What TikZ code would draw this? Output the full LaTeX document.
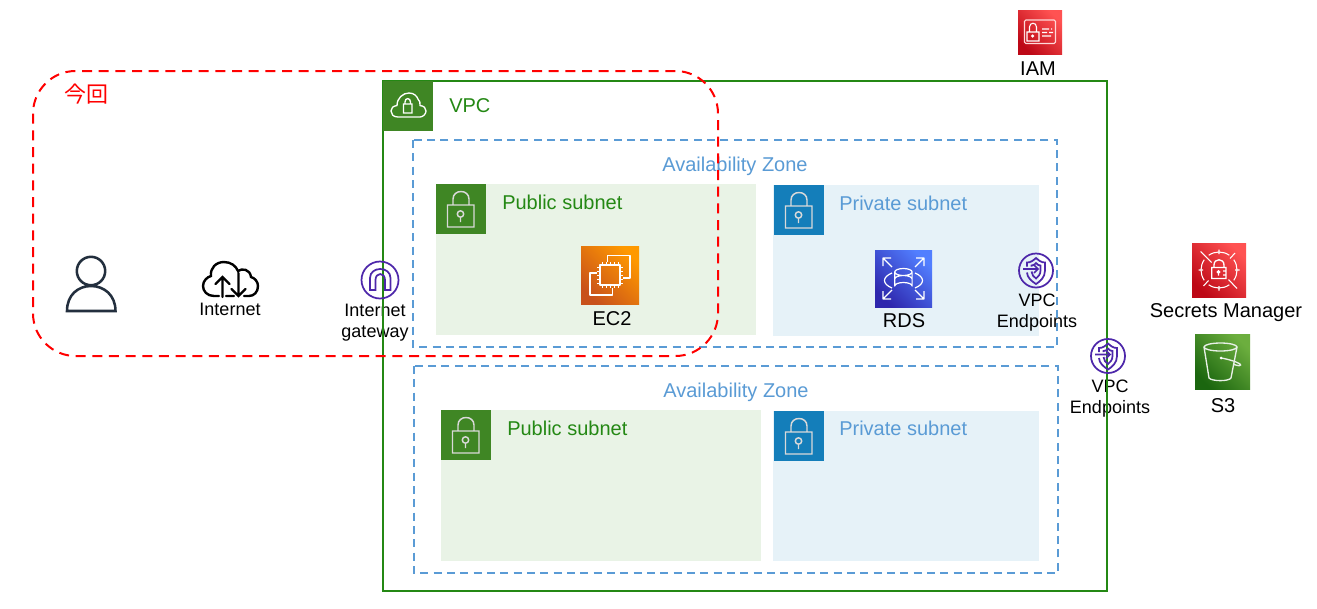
\documentclass[tikz,border=0pt]{standalone}
\usepackage{fontspec}
\setmainfont{Liberation Sans}
\newfontfamily\jpfont{Noto Sans CJK JP}
\definecolor{vpc green}{rgb}{0.1412, 0.5333, 0.0784}
\definecolor{head green}{rgb}{0.2471, 0.5255, 0.1412}
\definecolor{head blue}{rgb}{0.0784, 0.4941, 0.7294}
\definecolor{zone blue}{rgb}{0.3529, 0.6078, 0.8353}
\definecolor{public fill}{rgb}{0.9137, 0.9529, 0.9020}
\definecolor{private fill}{rgb}{0.9020, 0.9490, 0.9725}
\definecolor{edge purple}{rgb}{0.3020, 0.1529, 0.6667}
\definecolor{user navy}{rgb}{0.1373, 0.1843, 0.2431}
\definecolor{ec2 low}{rgb}{0.7843, 0.3176, 0.1059}
\definecolor{ec2 high}{rgb}{1, 0.6, 0}
\definecolor{rds low}{rgb}{0.1804, 0.1529, 0.6784}
\definecolor{rds high}{rgb}{0.3216, 0.4980, 1}
\definecolor{sec low}{rgb}{0.7412, 0.0314, 0.0863}
\definecolor{sec high}{rgb}{1, 0.3216, 0.3216}
\definecolor{s3 low}{rgb}{0.1059, 0.4, 0.0588}
\definecolor{s3 high}{rgb}{0.4235, 0.6824, 0.2431}
\tikzset{
	label big/.style = {anchor=base, inner sep=0pt, font=\fontsize{15}{17}\selectfont},
	label small/.style = {anchor=base, inner sep=0pt, align=center, font=\fontsize{13.5}{15.6}\selectfont},
	zone box/.style = {draw=zone blue, line width=1.5pt, dash pattern=on 6pt off 4pt},
	aws icon/.style = {inner sep=0pt, minimum size=#1},
	icon shade/.style 2 args = {left color=#1, right color=#2, shading angle=135},
	glyph/.style = {draw=white, line width=0.9pt, line join=round},
	lock glyph/.pic = {
		\draw[white!85!black, line width=1.1pt] (-13.5,-4) rectangle (13,18)
			(-8,-4) -- (-8,-10) .. controls (-8,-20) and (8,-20) .. (8,-10) -- (8,-4)
			(-0.5,5) circle (3.2) (-0.5,8.2) -- (-0.5,13);
	},
	endpoint glyph/.pic = {
		\draw[edge purple, line width=1.3pt] (0,0) circle (17)
			(-9,-4) -- (-9,-8) .. controls (-5,-8) and (-3,-10) .. (0,-12.5) .. controls (3,-10) and (5,-8) .. (9,-8)
				-- (9,0) .. controls (9,7) and (4,11) .. (0,13.5) .. controls (-4,11) and (-9,7) .. (-9,2)
			(-4.5,-4) -- (-4.5,-5) .. controls (-2.5,-5) and (-1,-6) .. (0,-7.5) .. controls (1,-6) and (2.5,-5) .. (4.5,-5)
				-- (4.5,0) .. controls (4.5,4) and (2,6.5) .. (0,8) .. controls (-2,6.5) and (-4.5,4) .. (-4.5,1)
			(-13,-1.5) -- (2,-1.5) (-2,-5.5) -- (2,-1.5) -- (-2,2.5);
	}
}

\begin{document}
\begin{tikzpicture}[x=0.75pt, y=-0.75pt]
	\useasboundingbox (0,0) rectangle (1317,608);
	\fill[white] (0,0) rectangle (1317,608);
	% subnets
	\fill[public fill] (436,184) rectangle (756,335);
	\fill[private fill] (773,185) rectangle (1039,336);
	\fill[public fill] (441,410) rectangle (761,561);
	\fill[private fill] (773,411) rectangle (1039,561);
	\fill[head green] (436,184) rectangle (486,234);
	\fill[head blue] (774,185) rectangle (824,235);
	\fill[head green] (441,410) rectangle (491,460);
	\fill[head blue] (774,411) rectangle (824,461);
	\pic at (461,209) {lock glyph};
	\pic at (799,210) {lock glyph};
	\pic at (466,435) {lock glyph};
	\pic at (799,436) {lock glyph};
	% labels under the green line
	\node[label big, text=zone blue] (zone one) at (735,171) {Availability Zone};
	\node[label big, text=zone blue] (zone two) at (736,397) {Availability Zone};
	\node[label big, text=vpc green, anchor=base west] (public one) at (502,209) {Public subnet};
	\node[label big, text=zone blue, anchor=base west] (private one) at (839,210) {Private subnet};
	\node[label big, text=vpc green, anchor=base west] (public two) at (507,435) {Public subnet};
	\node[label big, text=zone blue, anchor=base west] (private two) at (839,435) {Private subnet};
	\node[label small] (internet) at (230,315) {Internet};
	\node[label small] (gateway) at (375,337) {Internet\\gateway};
	\node[label small] (endpoints one) at (1037,327) {VPC\\Endpoints};
	\node[label small] (endpoints two) at (1110,413) {VPC\\Endpoints};
	% zones and vpc
	\draw[zone box] (413,140) rectangle (1057,347);
	\draw[zone box] (414,366) rectangle (1058,573);
	\draw[vpc green, line width=1.5pt] (383,81) rectangle (1107,591);
	\fill[head green] (382.5,80.5) rectangle (433,131);
	\node[label big, text=vpc green, anchor=base west] (vpc) at (449,112) {VPC};
	\draw[white, line width=1pt] 
		(398,117) .. controls (393,117) and (391,114) .. (391,111)
			.. controls (391,108) and (393,106) .. (397,105.5)
			.. controls (397,98) and (403,93) .. (409,93)
			.. controls (414,93) and (417,96) .. (418.5,100)
			.. controls (420,100) and (420,103) .. (420,105.5)
			.. controls (424,106) and (426,108) .. (426,111)
			.. controls (426,114) and (423,117) .. (420,117) -- cycle
		(403.5,104) rectangle (412,113)
		(405,104) -- (405,102) .. controls (405,97.5) and (410.5,97.5) .. (410.5,102) -- (410.5,104);
	% user and internet
	\draw[user navy, line width=1.9pt] (91,271) circle (14.2)
		(67,311) -- (115.5,311) .. controls (115.5,295) and (104,286) .. (91,286)
			.. controls (78,286) and (67,295) .. (67,311) -- cycle;
	\draw[black, line width=1.8pt, line cap=round]
		(219,296) -- (214,296) .. controls (207,296) and (203,291) .. (203,286)
			.. controls (203,281) and (207,277) .. (211,276)
			.. controls (210,268) and (216,262) .. (224,262)
			.. controls (231,262) and (236,266) .. (238,271)
			.. controls (242,268) and (250,269) .. (251,277)
			.. controls (255,278) and (258,282) .. (258,286)
			.. controls (258,292) and (254,296) .. (249,296) -- (244,296)
		(226,296) -- (234,296)
		(222.5,297) -- (222.5,277) (215.5,284) -- (222.5,277) -- (229.5,284)
		(238.5,273) -- (238.5,296) (231.5,289) -- (238.5,296) -- (245.5,289);
	% internet gateway
	\draw[edge purple, line width=1.3pt] (380,280) circle (18.5)
		(370,290) -- (370,278) .. controls (370,266) and (390.5,266) .. (390.5,278) -- (390.5,290)
			-- (385,290) -- (385,280) .. controls (385,272) and (375.5,272) .. (375.5,280) -- (375.5,290) -- cycle;
	% endpoints
	\pic at (1036,270.5) {endpoint glyph};
	\pic at (1108,356) {endpoint glyph};
	% ec2
	\node[aws icon=43.5pt, icon shade={ec2 low}{ec2 high}] (ec2) at (610,275) {};
	\node[label big] (ec2 label) at (612,325) {EC2};
	\draw[glyph] (607.5,262) -- (607.5,255.5) -- (630,255.5) -- (630,278) -- (623,278)
		(597,273) -- (590,273) -- (590,295) -- (612.5,295) -- (612.5,288)
		(600,265) rectangle (620,285);
	\foreach \p in {0,...,4} {
		\draw[white, line width=0.7pt] (602+\p*4,262) -- (602+\p*4,265) (602+\p*4,285) -- (602+\p*4,288)
			(597,267+\p*4) -- (600,267+\p*4) (620,267+\p*4) -- (623,267+\p*4);
	}
	% rds
	\node[aws icon=42.75pt, icon shade={rds low}{rds high}] (rds) at (903.5,278.5) {};
	\node[label big] (rds label) at (904,327) {RDS};
	\draw[glyph] (894.7,272) arc[start angle=180, end angle=360, x radius=8.7, y radius=3.5]
		(894.7,272) arc[start angle=180, end angle=0, x radius=8.7, y radius=3.5]
		(894.7,272) -- (894.7,286) arc[start angle=180, end angle=360, x radius=8.7, y radius=3.5] -- (912.1,272)
		(894.7,279) arc[start angle=180, end angle=360, x radius=8.7, y radius=3.5]
		(892,273) .. controls (882,277) and (882,284) .. (892,288)
		(915,273) .. controls (925,277) and (925,284) .. (915,288);
	\foreach \sx/\sy/\cx/\cy in {-1/-1/883/258, 1/-1/924/258, -1/1/883/299, 1/1/924/299} {
		\draw[glyph] (\cx,\cy) -- (\cx-9*\sx,\cy-9*\sy)
			(\cx-8*\sx,\cy) -- (\cx,\cy) -- (\cx,\cy-8*\sy);
	}
	% iam
	\node[aws icon=33pt, icon shade={sec low}{sec high}] (iam) at (1040,32) {};
	\node[label big] (iam label) at (1038,75) {IAM};
	\draw[white!85!red, line width=0.8pt, rounded corners=1pt] (1024.5,20) rectangle (1055.5,43.5);
	\draw[white, line width=0.8pt] (1027,32) rectangle (1039,41)
		(1029.5,32) -- (1029.5,27) .. controls (1029.5,22) and (1036.5,22) .. (1036.5,27) -- (1036.5,32)
		(1032.7,36) circle (1)
		(1042,29) -- (1049,29) (1051,29) -- (1052,29)
		(1042,32.5) -- (1047,32.5) (1049,32.5) -- (1053,32.5)
		(1042,36) -- (1051,36);
	% secrets manager
	\node[aws icon=40.5pt, icon shade={sec low}{sec high}] (secrets) at (1219,270) {};
	\node[label big] (secrets label) at (1226,317) {Secrets Manager};
	\foreach \a in {-35,55,145,235} {
		\draw[white, line width=0.8pt] (1219,270) ++(\a:18) arc[start angle=\a, delta angle=70, radius=18];
	}
	\draw[white, line width=0.8pt] (1200.5,251.5) -- (1211.5,262.5) (1228.5,279.5) -- (1237,288.5)
		(1230,258.5) -- (1235,253) (1203.5,286) -- (1208.5,280.5)
		(1219,249.5) -- (1219,254) (1219,286) -- (1219,290.5)
		(1198.5,270) -- (1203,270) (1235,270) -- (1239.5,270);
	\draw[white, line width=1pt] (1211.7,267.5) rectangle (1226,278.5)
		(1214,267.5) -- (1214,265) .. controls (1214,258) and (1224,258) .. (1224,265) -- (1224,267.5)
		(1218.5,272) circle (1.2) (1218.5,273) -- (1218.5,275.5)
		(1223,271) -- (1226,271) (1223,275) -- (1226,275);
	% s3
	\node[aws icon=41.25pt, icon shade={s3 low}{s3 high}] (s3) at (1222.5,361.5) {};
	\node[label big] (s3 label) at (1223,412) {S3};
	\draw[white!90!s3 low, line width=1pt] (1220.5,347) ellipse (16.5 and 4)
		(1204,347) -- (1209,378) .. controls (1212,381.5) and (1229,381.5) .. (1231,378) -- (1237,347)
		(1221,358) .. controls (1228,359) and (1241,363) .. (1240.5,365) .. controls (1240,367) and (1233,364) .. (1233,364)
		;
	\fill[white] (1221,358) circle (1.5);
	% red area
	\draw[red, line width=1.5pt, dash pattern=on 7.5pt off 5pt, rounded corners=32pt] (33,71) rectangle (718,356);
	\node[anchor=base west, inner sep=0pt, text=red, font=\jpfont\fontsize{16.5}{18}\selectfont] (today) at (64,102) {今回};
\end{tikzpicture}
\end{document}
